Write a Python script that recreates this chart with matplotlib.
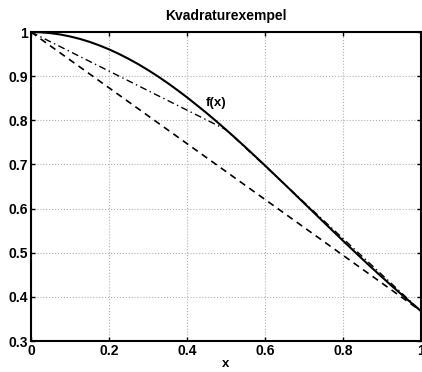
import numpy as np
import matplotlib.pyplot as plt

plt.rcParams['font.family'] = ['Liberation Sans', 'DejaVu Sans']
plt.rcParams['font.weight'] = 'bold'

# f(x) sampled on [0, 1]
x = [0.0, 0.025, 0.05, 0.075, 0.1, 0.125, 0.15, 0.175, 0.2, 0.225,
     0.25, 0.275, 0.3, 0.325, 0.35, 0.375, 0.4, 0.425, 0.45, 0.475,
     0.5, 0.525, 0.55, 0.575, 0.6, 0.625, 0.65, 0.675, 0.7, 0.725,
     0.75, 0.775, 0.8, 0.825, 0.85, 0.875, 0.9, 0.925, 0.95, 0.975, 1.0]
fx = [1.0000, 0.9994, 0.9975, 0.9944, 0.9900, 0.9845, 0.9778, 0.9698,
      0.9608, 0.9506, 0.9394, 0.9272, 0.9139, 0.8998, 0.8847, 0.8687,
      0.8521, 0.8345, 0.8167, 0.7980, 0.7788, 0.7592, 0.7390, 0.7184,
      0.6977, 0.6766, 0.6554, 0.6341, 0.6126, 0.5913, 0.5698, 0.5486,
      0.5273, 0.5064, 0.4855, 0.4650, 0.4449, 0.4250, 0.4056, 0.3865,
      0.3679]

# one-interval trapezoid
x_trap1 = [0.0, 1.0]
y_trap1 = [1.0000, 0.3679]
# two-interval trapezoid
x_trap2 = [0.0, 0.5, 1.0]
y_trap2 = [1.0000, 0.7788, 0.3679]

xticks = [0, 0.2, 0.4, 0.6, 0.8, 1]
yticks = [0.3, 0.4, 0.5, 0.6, 0.7, 0.8, 0.9, 1]

fig = plt.figure(figsize=(4.22, 3.72), dpi=100)
ax = fig.add_axes([0.0735, 0.0833, 0.924, 0.8306])

ax.plot(x, fx, 'k-', lw=1.5)
ax.plot(x_trap1, y_trap1, 'k--', lw=1.2, dashes=(4, 3))
ax.plot(x_trap2, y_trap2, 'k-.', lw=1.0, dashes=(5, 2.5, 1, 2.5))
ax.text(0.449, 0.832, 'f(x)', fontsize=9.5, fontweight='bold')

ax.set_xlim(0, 1)
ax.set_ylim(0.3, 1)
ax.set_xticks(xticks)
ax.set_xticklabels(['0', '0.2', '0.4', '0.6', '0.8', '1'])
ax.set_yticks(yticks)
ax.set_yticklabels(['0.3', '0.4', '0.5', '0.6', '0.7', '0.8', '0.9', '1'])
ax.grid(True, color='#b0b0b0', linestyle=':', linewidth=0.8)
ax.tick_params(direction='in', top=True, right=True, length=3, width=1,
               labelsize=10, pad=2)
for s in ax.spines.values():
    s.set_linewidth(1.5)
ax.set_title('Kvadraturexempel', fontsize=10, fontweight='bold', pad=9)
ax.set_xlabel('x', fontsize=9.5, fontweight='bold', labelpad=0.5)

fig.savefig('out.png', dpi=100)
